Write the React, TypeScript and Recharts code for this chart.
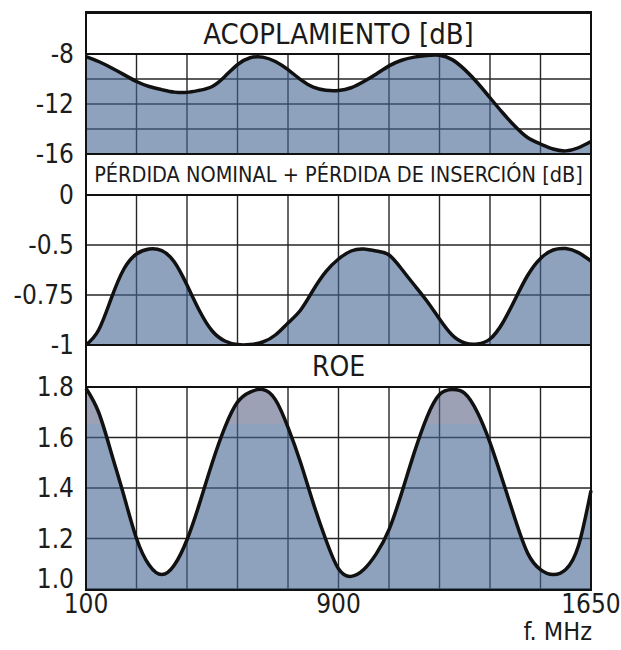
import React from 'react';
import { AreaChart, Area, XAxis, YAxis, CartesianGrid } from 'recharts';

// x = grid step (10 equal divisions between 100 and 1650 MHz)
const STEPS = [
  0, 0.25, 0.5, 0.75, 1, 1.25, 1.5, 1.75, 2, 2.25, 2.5, 2.75, 3, 3.25, 3.5, 3.75, 4, 4.25, 4.5, 4.75, 5,
  5.25, 5.5, 5.75, 6, 6.25, 6.5, 6.75, 7, 7.25, 7.5, 7.75, 8, 8.25, 8.5, 8.75, 9, 9.25, 9.5, 9.75, 10,
];
const FREQ_TICKS = [0, 5, 10];
const FREQ_LABELS = ['100', '900', '1650'];

const ACOPLAMIENTO = [
  -8.2, -8.6, -9.1, -9.65, -10.2, -10.6, -10.85, -11.05, -11.07, -10.9, -10.6, -9.8, -8.85, -8.3, -8.25,
  -8.6, -9.25, -10.05, -10.65, -10.9, -10.92, -10.7, -10.2, -9.6, -8.95, -8.5, -8.25, -8.12, -8.1, -8.45,
  -9.25, -10.3, -11.5, -12.7, -13.8, -14.7, -15.2, -15.6, -15.75, -15.5, -15.0,
];
const PERDIDA = [
  -1.0, -0.925, -0.767, -0.62, -0.545, -0.52, -0.528, -0.585, -0.7, -0.83, -0.93, -0.98, -0.998, -0.998,
  -0.985, -0.95, -0.89, -0.825, -0.725, -0.633, -0.57, -0.53, -0.52, -0.53, -0.55, -0.62, -0.7, -0.78,
  -0.87, -0.95, -0.99, -0.995, -0.97, -0.89, -0.77, -0.65, -0.567, -0.525, -0.518, -0.538, -0.58,
];
const ROE = [
  1.795, 1.7, 1.54, 1.37, 1.2, 1.095, 1.057, 1.095, 1.195, 1.34, 1.5, 1.64, 1.74, 1.78, 1.79, 1.75, 1.64,
  1.5, 1.34, 1.195, 1.08, 1.05, 1.077, 1.14, 1.235, 1.38, 1.54, 1.68, 1.77, 1.79, 1.775, 1.7, 1.58, 1.43,
  1.275, 1.14, 1.077, 1.057, 1.077, 1.17, 1.39,
];

const ACOP_TICKS = [-16, -14, -12, -10, -8];
const ACOP_LABELS = [-16, -12, -8];
const PERDIDA_TICKS = [0, -0.5, -0.75, -1];
const ROE_TICKS = [1.0, 1.2, 1.4, 1.6, 1.8];

// the loss axis is not linear: 0, -0.5, -0.75, -1 sit on equal divisions
const lossPos = (v: number) => (v >= -0.5 ? v / 0.5 : -1 - (-0.5 - v) / 0.25);

const acopData = STEPS.map((s, i) => ({ s, v: ACOPLAMIENTO[i] }));
const perdidaData = STEPS.map((s, i) => ({ s, v: lossPos(PERDIDA[i]) }));
const roeData = STEPS.map((s, i) => ({ s, v: ROE[i] }));

const FONT = "'DejaVu Sans Condensed', 'Liberation Sans Narrow', 'Open Sans', sans-serif";
const FILL = '#446491';
const tickStyle = { fontSize: 26, fill: '#1c1c1c', fontFamily: FONT };
const M = { top: 14, right: 30, bottom: 14, left: 6 };

const grid = <CartesianGrid stroke="#262626" strokeWidth={1.4} />;
const xHidden = <XAxis dataKey="s" type="number" domain={[0, 10]} ticks={STEPS.filter((s) => s % 1 === 0)} hide />;

const RoeTick = (props: any) => {
  const { x, y, payload } = props;
  const shift = payload.value === 1 ? -10 : 0;
  return (
    <text x={x} y={y + shift} dy="0.355em" textAnchor="end" {...tickStyle}>
      {Number(payload.value).toFixed(1)}
    </text>
  );
};

const title = (text: string, top: number, height: number, size: number) => (
  <div
    style={{
      position: 'absolute',
      left: 86,
      top,
      width: 505,
      height,
      display: 'flex',
      alignItems: 'center',
      justifyContent: 'center',
      fontFamily: FONT,
      fontSize: size,
      color: '#1a1a1a',
      background: '#fff',
      borderTop: '2.5px solid #111',
      borderBottom: '2.5px solid #111',
      boxSizing: 'border-box',
      whiteSpace: 'nowrap',
    }}
  >
    {text}
  </div>
);

export default function App() {
  return (
    <div style={{ position: 'absolute', left: 0, top: 0, width: 621, height: 650, background: '#fff' }}>
      <div style={{ position: 'absolute', left: 0, top: 54 - M.top }}>
        <AreaChart width={621} height={100 + M.top + M.bottom} data={acopData} margin={M}>
          {grid}
          {xHidden}
          <YAxis
            type="number"
            domain={[-16, -8]}
            ticks={ACOP_TICKS}
            interval={0}
            width={80}
            tick={tickStyle}
            tickLine={false}
            axisLine={false}
            tickSize={0}
            tickMargin={12}
            tickFormatter={(v: number) => (ACOP_LABELS.includes(v) ? String(v) : '')}
          />
          <Area
            type="natural"
            dataKey="v"
            baseValue="dataMin"
            stroke="#111"
            strokeWidth={3.5}
            fill={FILL}
            fillOpacity={0.6}
            isAnimationActive={false}
          />
        </AreaChart>
      </div>

      <div style={{ position: 'absolute', left: 0, top: 195 - M.top }}>
        <AreaChart width={621} height={150 + M.top + M.bottom} data={perdidaData} margin={M}>
          {grid}
          {xHidden}
          <YAxis
            type="number"
            domain={[-3, 0]}
            ticks={PERDIDA_TICKS.map(lossPos)}
            interval={0}
            width={80}
            tick={tickStyle}
            tickLine={false}
            axisLine={false}
            tickSize={0}
            tickMargin={12}
            tickFormatter={(v: number) => String(PERDIDA_TICKS[Math.round(-v)])}
          />
          <Area
            type="natural"
            dataKey="v"
            baseValue="dataMin"
            stroke="#111"
            strokeWidth={3.5}
            fill={FILL}
            fillOpacity={0.6}
            isAnimationActive={false}
          />
        </AreaChart>
      </div>

      <div style={{ position: 'absolute', left: 0, top: 387 - M.top }}>
        <AreaChart width={621} height={202 + M.top + 44} data={roeData} margin={{ ...M, bottom: 0 }}>
          <defs>
            <linearGradient id="roeFill" x1="0" y1="0" x2="0" y2="1">
              <stop offset="0.18" stopColor="#5a6284" />
              <stop offset="0.18" stopColor={FILL} />
            </linearGradient>
          </defs>
          {grid}
          <XAxis
            dataKey="s"
            type="number"
            domain={[0, 10]}
            ticks={STEPS.filter((s) => s % 1 === 0)}
            height={44}
            tick={tickStyle}
            tickLine={false}
            axisLine={false}
            tickSize={0}
            tickMargin={6}
            interval={0}
            tickFormatter={(v: number) => {
              const k = FREQ_TICKS.indexOf(v);
              return k >= 0 ? FREQ_LABELS[k] : '';
            }}
          />
          <YAxis
            type="number"
            domain={[1.0, 1.8]}
            ticks={ROE_TICKS}
            interval={0}
            width={80}
            tick={<RoeTick />}
            tickLine={false}
            axisLine={false}
            tickSize={0}
            tickMargin={12}
          />
          <Area
            type="natural"
            dataKey="v"
            baseValue="dataMin"
            stroke="#111"
            strokeWidth={3.5}
            fill="url(#roeFill)"
            fillOpacity={0.6}
            isAnimationActive={false}
          />
        </AreaChart>
      </div>

      {title('ACOPLAMIENTO [dB]', 12, 43, 29)}
      {title('PÉRDIDA NOMINAL + PÉRDIDA DE INSERCIÓN [dB]', 153, 43, 21.5)}
      {title('ROE', 344, 44, 28)}
      <div
        style={{
          position: 'absolute',
          left: 85,
          top: 11,
          width: 507,
          height: 580,
          border: '2.5px solid #111',
          boxSizing: 'border-box',
          pointerEvents: 'none',
        }}
      />
      <div
        style={{
          position: 'absolute',
          right: 621 - 592,
          top: 617,
          fontFamily: FONT,
          fontSize: 25,
          color: '#1a1a1a',
        }}
      >
        f. MHz
      </div>
    </div>
  );
}
